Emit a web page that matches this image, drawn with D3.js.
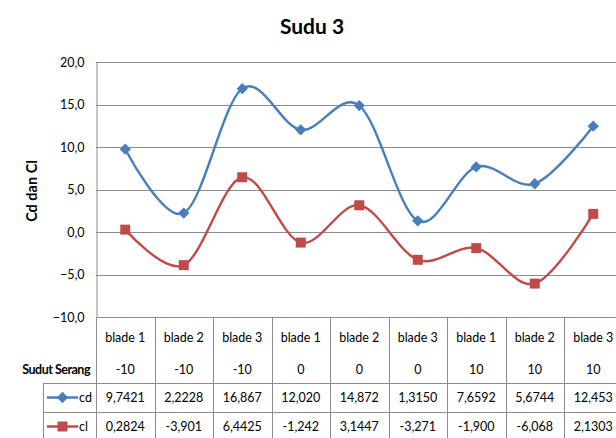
<!DOCTYPE html>
<html><head><meta charset="utf-8">
<script src="https://cdn.jsdelivr.net/npm/d3@7"></script>
<style>
html,body{margin:0;padding:0;background:#fff;overflow:hidden}
svg{display:block}
text{font-family:Lato,"Open Sans",sans-serif;fill:#000}
</style></head><body>
<svg id="c" width="616" height="438"></svg>
<script>
const categories = ["blade 1","blade 2","blade 3","blade 1","blade 2","blade 3","blade 1","blade 2","blade 3"];
const sudutSerang = ["-10","-10","-10","0","0","0","10","10","10"];
const cdValues = [9.7421, 2.2228, 16.867, 12.020, 14.872, 1.3150, 7.6592, 5.6744, 12.453];
const clValues = [0.2824, -3.901, 6.4425, -1.242, 3.1447, -3.271, -1.900, -6.068, 2.1303];
const yTicks = [-10, -5, 0, 5, 10, 15, 20];
const seriesNames = ["cd", "cl"];
const title = "Sudu 3";
const yTitle = "Cd dan Cl";

(function(){
const svg = d3.select("#c");
const pLeft = 96, pRight = 622.5, pTop = 62, pBottom = 317;
const idx = categories.map((d,i)=>i);
const x = d3.scaleBand().domain(idx).range([pLeft,pRight]);
const y = d3.scaleLinear().domain([-10,20]).range([pBottom,pTop]);
const colors = ["#4a7ebb","#be4b48"];

svg.append("text").attr("x",312).attr("y",34).attr("text-anchor","middle")
  .style("font-size","21px").style("font-weight","bold").text(title);

svg.append("text").attr("transform","translate(37,191) rotate(-90)").attr("text-anchor","middle")
  .style("font-size","14.5px").style("font-weight","bold").text(yTitle);

// gridlines
svg.append("g").selectAll("line").data(yTicks).join("line")
  .attr("x1",pLeft).attr("x2",616).attr("y1",d=>Math.round(y(d))+0.5).attr("y2",d=>Math.round(y(d))+0.5)
  .attr("stroke","#8c8c8c").attr("stroke-width",1);

// y axis
const yAxis = d3.axisLeft(y).tickValues(yTicks).tickSize(0).tickPadding(12)
  .tickFormat(d=>d3.format(".1f")(d).replace(".",","));
const ga = svg.append("g").attr("transform",`translate(${pLeft+0.5},0)`).call(yAxis);
ga.select(".domain").attr("stroke","#8c8c8c");
ga.selectAll("text").style("font-size","12.5px").style("font-family","Lato,'Open Sans',sans-serif").attr("fill","#000");

// series lines
const seriesData = [cdValues, clValues];
const line = d3.line().x((d,i)=>x(i)+x.bandwidth()/2).y(d=>y(d)).curve(d3.curveCardinal.tension(0));
seriesData.forEach((vals,s)=>{
  svg.append("path").datum(vals).attr("d",line).attr("fill","none")
    .attr("stroke",colors[s]).attr("stroke-width",2.4);
});
// markers
const diamond = d3.symbol().type(d3.symbolSquare).size(64);
const square = d3.symbol().type(d3.symbolSquare).size(100);
svg.append("g").selectAll("path").data(cdValues).join("path")
  .attr("transform",(d,i)=>`translate(${x(i)+x.bandwidth()/2},${y(d)}) rotate(45)`)
  .attr("d",diamond()).attr("fill",colors[0]);
svg.append("g").selectAll("path").data(clValues).join("path")
  .attr("transform",(d,i)=>`translate(${x(i)+x.bandwidth()/2},${y(d)})`)
  .attr("d",square()).attr("fill",colors[1]);

// data table
const tbl = svg.append("g");
const gridC = "#8c8c8c";
const rowCd = 383, rowCl = 412, rowEnd = 441;
idx.concat([idx.length]).forEach(i=>{
  const xx = Math.round(i<idx.length ? x(i) : pRight)+0.5;
  tbl.append("line").attr("x1",xx).attr("x2",xx).attr("y1",pBottom).attr("y2",rowEnd).attr("stroke",gridC);
});
[rowCd,rowCl,rowEnd-1].forEach(r=>{
  tbl.append("line").attr("x1",43).attr("x2",616).attr("y1",r+0.5).attr("y2",r+0.5).attr("stroke",gridC);
});
tbl.append("line").attr("x1",43.5).attr("x2",43.5).attr("y1",rowCd).attr("y2",rowEnd).attr("stroke",gridC);

const fmt = v=>{
  const ip = (v<0?"-":"") + Math.floor(Math.abs(v)).toString();
  const dec = Math.max(0, 6 - ip.length - 1);
  return v.toFixed(dec).replace(".",",");
};
const cx = i=>x(i)+x.bandwidth()/2;
tbl.selectAll("text.cat").data(categories).join("text").attr("class","cat")
  .attr("x",(d,i)=>cx(i)).attr("y",342).attr("text-anchor","middle").style("font-size","12.5px").text(d=>d);
tbl.selectAll("text.ss").data(sudutSerang).join("text").attr("class","ss")
  .attr("x",(d,i)=>cx(i)).attr("y",374).attr("text-anchor","middle").style("font-size","12.5px").text(d=>d);
tbl.append("text").attr("x",90).attr("y",374).attr("text-anchor","end")
  .style("font-size","12.5px").style("font-weight","bold").style("letter-spacing","-0.5px").text("Sudut Serang");
tbl.selectAll("text.cd").data(cdValues).join("text").attr("class","cd")
  .attr("x",(d,i)=>cx(i)).attr("y",402).attr("text-anchor","middle").style("font-size","12.5px").text(fmt);
tbl.selectAll("text.cl").data(clValues).join("text").attr("class","cl")
  .attr("x",(d,i)=>cx(i)).attr("y",431).attr("text-anchor","middle").style("font-size","12.5px").text(fmt);

// legend keys
[[rowCd,0,diamond,45],[rowCl,1,square,0]].forEach(([r,s,sym,rot])=>{
  const yy = r+14.5;
  tbl.append("line").attr("x1",47).attr("x2",78).attr("y1",yy).attr("y2",yy).attr("stroke",colors[s]).attr("stroke-width",2.5);
  tbl.append("path").attr("transform",`translate(62.5,${yy}) rotate(${rot})`).attr("d",sym()).attr("fill",colors[s]);
  tbl.append("text").attr("x",79).attr("y",r+19).style("font-size","12.5px").text(seriesNames[s]);
});
})();
</script></body></html>
